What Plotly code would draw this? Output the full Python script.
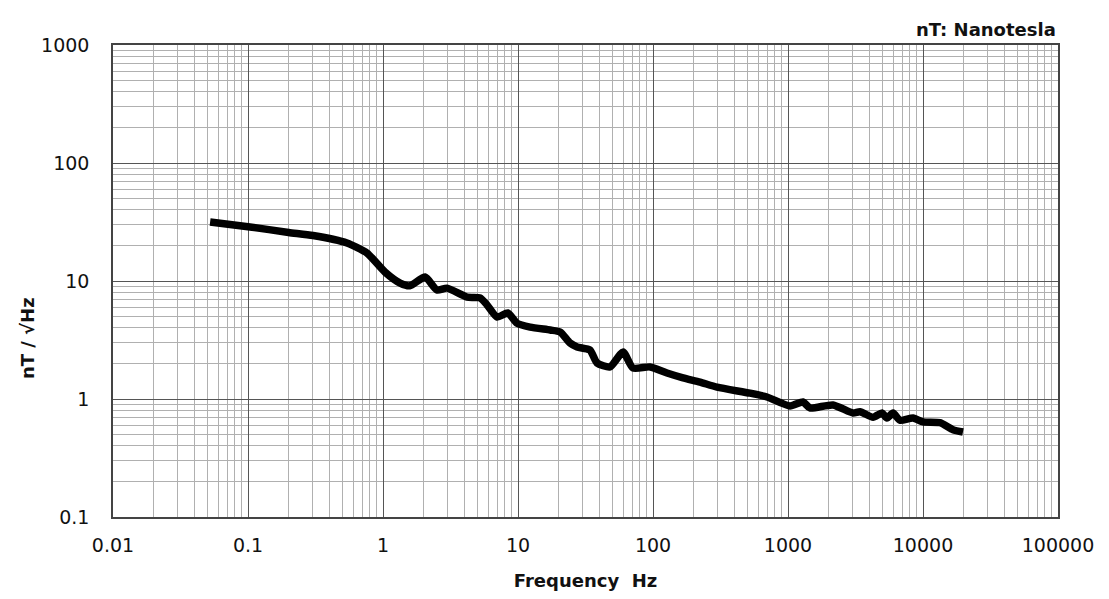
import plotly.graph_objects as go

# Data
freq_hz = [0.0524, 0.1035, 0.2, 0.303, 0.541, 0.760, 1.035, 1.34, 1.58, 2.05, 2.51, 2.98, 4.19, 5.23,
           5.9, 7.0, 8.4, 9.8, 12.3, 17.3, 20.5, 24.3, 27.4, 34.1, 38.5, 48, 60, 71, 95, 127, 167,
           223, 298, 523, 698, 1035, 1291, 1455, 2154, 3030, 3414, 4264, 4970, 5410, 5995, 6761,
           8440, 10000, 13360, 16680, 19780]
noise_nt = [31.6, 28.7, 25.8, 24.3, 21.0, 17.3, 11.9, 9.6, 9.1, 10.8, 8.4, 8.7, 7.3, 7.2,
            6.27, 4.95, 5.36, 4.4, 4.07, 3.84, 3.70, 2.98, 2.76, 2.60, 2.02, 1.87, 2.50, 1.83, 1.87, 1.66, 1.51,
            1.39, 1.26, 1.12, 1.04, 0.873, 0.944, 0.84, 0.89, 0.76, 0.78, 0.70, 0.76, 0.69, 0.76, 0.66,
            0.69, 0.64, 0.63, 0.55, 0.525]

x_tick_vals = [0.01, 0.1, 1, 10, 100, 1000, 10000, 100000]
x_tick_text = ["0.01", "0.1", "1", "10", "100", "1000", "10000", "100000"]
y_tick_vals = [0.1, 1, 10, 100, 1000]
y_tick_text = ["0.1", "1", "10", "100", "1000"]

x_minor = [m * 10.0 ** e for e in range(-2, 5) for m in range(2, 10)]
y_minor = [m * 10.0 ** e for e in range(-1, 3) for m in range(2, 10)]

FONT = "DejaVu Sans"

fig = go.Figure()
fig.add_trace(go.Scatter(x=freq_hz, y=noise_nt, mode="lines",
                         line=dict(color="black", width=7.5, shape="spline", smoothing=0.6),
                         hoverinfo="skip", showlegend=False))

axis_common = dict(
    type="log",
    showline=True, linecolor="#444", linewidth=1.5, mirror=True,
    showgrid=True, gridcolor="#555", gridwidth=1.2,
    ticks="", zeroline=False,
    tickfont=dict(family=FONT, size=19, color="#111"),
)

fig.update_xaxes(
    **axis_common,
    range=[-2, 5],
    tickmode="array", tickvals=x_tick_vals, ticktext=x_tick_text,
    minor=dict(tickmode="array", tickvals=x_minor, showgrid=True, gridcolor="#b0b0b0", gridwidth=1, ticks=""),
    title=dict(text="<b>Frequency  Hz</b>", font=dict(family=FONT, size=18, color="#111"), standoff=20),
    ticklabelstandoff=10,
)
fig.update_yaxes(
    **axis_common,
    range=[-1, 3],
    tickmode="array", tickvals=y_tick_vals, ticktext=y_tick_text,
    minor=dict(tickmode="array", tickvals=y_minor, showgrid=True, gridcolor="#b0b0b0", gridwidth=1, ticks=""),
    ticklabelstandoff=18,
)

# y-axis title placed as in the reference (lower than the plot centre)
fig.add_annotation(text="<b>nT / √Hz</b>", xref="paper", yref="paper", x=-0.091, y=0.379,
                   xanchor="center", yanchor="middle", textangle=-90, showarrow=False,
                   font=dict(family=FONT, size=18, color="#111"))

fig.add_annotation(text="<b>nT: Nanotesla</b>", xref="paper", yref="paper", x=1.0, y=1.0,
                   xanchor="right", yanchor="bottom", yshift=3, showarrow=False,
                   font=dict(family=FONT, size=18, color="#111"))

fig.update_layout(
    width=1109, height=599,
    margin=dict(l=113, r=51, t=45, b=82),
    paper_bgcolor="white", plot_bgcolor="white",
)

fig.write_html("out.html")
